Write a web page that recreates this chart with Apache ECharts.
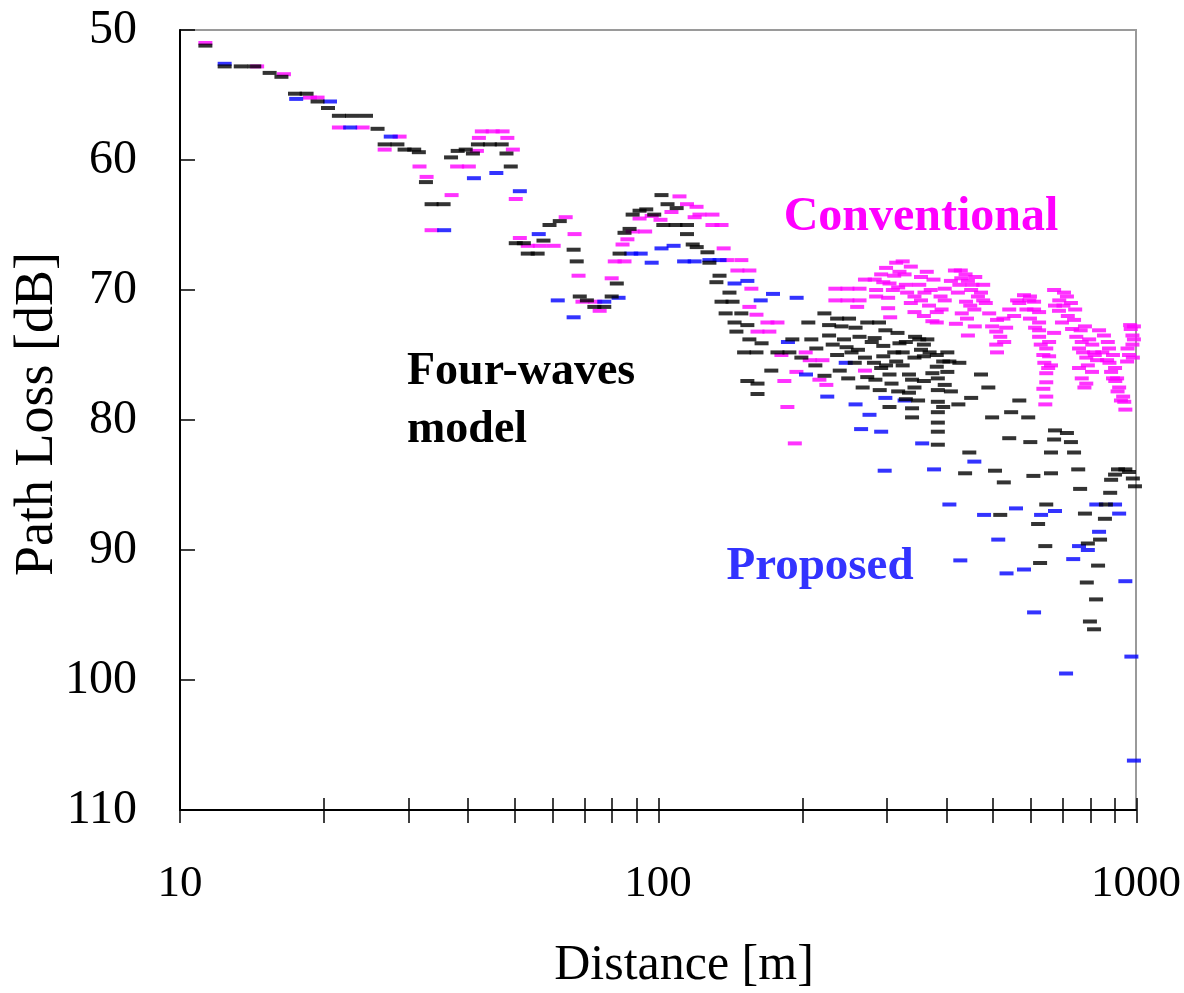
<!DOCTYPE html>
<html>
<head>
<meta charset="utf-8">
<script src="https://cdn.jsdelivr.net/npm/echarts@6/dist/echarts.min.js"></script>
<style>
  html, body { margin: 0; padding: 0; background: #fff; }
  #chart { width: 1184px; height: 993px; }
</style>
</head>
<body>
<div id="chart"></div>
<script>
// axis ticks / labels
const distTicks = [10, 20, 30, 40, 50, 60, 70, 80, 90, 100, 200, 300, 400, 500, 600, 700, 800, 900, 1000];
const distLabels = [10, 100, 1000];

// [distance m, path loss dB]
const conventional = [
  [11.3, 51.0], [14.5, 52.8], [16.5, 53.4], [18.7, 55.2], [19.4, 55.2], [21.5, 57.5], [24.1, 57.5], [26.8, 59.2], [28.8, 58.2],
  [31.7, 60.5], [32.8, 61.3], [33.6, 65.4], [37.0, 62.7], [38.0, 60.5], [40.2, 60.5], [41.8, 59.3], [42.2, 58.3], [42.8, 57.8],
  [45.1, 57.8], [47.3, 57.8], [48.4, 58.3], [49.7, 59.2], [50.4, 63.0], [51.4, 66.0], [53.4, 66.6], [56.6, 66.6], [60.5, 66.6],
  [64.1, 64.4], [66.9, 65.7], [68.2, 68.9], [69.5, 70.9], [73.9, 70.9], [75.5, 71.6], [80.0, 69.1], [81.2, 67.8], [85.1, 67.8],
  [84.3, 66.5], [86.3, 66.1], [88.5, 65.5], [94.0, 65.5], [91.5, 64.5], [97.0, 64.3], [101.2, 64.6], [106.7, 64.0], [110.9, 62.8],
  [115.0, 63.4], [120.4, 63.6], [119.3, 64.4], [122.1, 64.2], [130.0, 64.2], [130.0, 65.0], [135.8, 65.0], [137.2, 66.8],
  [139.4, 67.7], [149.4, 67.7], [146.6, 68.5], [155.3, 68.5], [156.8, 69.9], [155.3, 71.3], [160.7, 71.9], [169.4, 72.5],
  [177.8, 72.5], [161.5, 73.2], [171.0, 73.2], [181.2, 75.0], [194.8, 76.3], [183.8, 77.0], [186.5, 79.0], [193.3, 81.8],
  [203.7, 74.8], [207.7, 75.4], [220.8, 75.4], [217.6, 76.9], [225.0, 77.3],
  [235, 69.9], [249, 69.9], [264, 69.9], [235, 70.8], [249, 70.8], [264, 70.8], [261, 71.3], [271, 76.2], [271, 69.2],
  [286, 70.0], [284, 69.2], [293, 68.8], [315, 67.9], [325, 67.8], [320, 68.6], [305, 69.5], [286, 70.5], [303, 70.6],
  [303, 71.4], [306, 72.1], [328, 68.8], [330, 69.6], [352, 69.6], [344, 70.5], [344, 71.7], [365, 68.6], [377, 69.2],
  [361, 70.2], [369, 71.2], [383, 71.7], [383, 72.5], [398, 69.9], [398, 70.8], [418, 68.5], [431, 69.1], [424, 70.2],
  [427, 69.6], [441, 70.9], [443, 72.2], [445, 73.5], [452, 70.0], [459, 71.5], [461, 69.0], [474, 70.2], [479, 69.6],
  [479, 70.8], [493, 71.8], [512, 72.3], [510, 73.2], [510, 74.2], [512, 74.8], [528, 72.2], [543, 71.5], [556, 72.0],
  [564, 70.8], [583, 70.4], [598, 70.8], [612, 70.9], [612, 71.5], [627, 71.7], [627, 72.5], [627, 73.1], [627, 73.6],
  [649, 74.5], [658, 74.0], [658, 75.1], [643, 75.6], [664, 75.8], [649, 76.4], [649, 77.1], [649, 78.2], [646, 78.8],
  [674, 70.0], [691, 70.8], [707, 70.2], [717, 70.5], [731, 71.0], [677, 71.2], [746, 71.5], [674, 73.3], [742, 72.3],
  [766, 73.1], [782, 72.8], [760, 74.5], [787, 75.2], [793, 75.8], [787, 77.2], [798, 73.8], [817, 74.8], [829, 75.4],
  [809, 76.3], [837, 73.1], [857, 73.5], [873, 74.0], [878, 74.5], [870, 75.4], [895, 75.0], [887, 76.3], [904, 76.0],
  [913, 76.8], [922, 77.5], [940, 78.2], [950, 79.2], [958, 75.5], [972, 72.7], [983, 73.5], [983, 74.2], [967, 75.0], [990, 73.8],
  [300, 68.3], [312, 68.9], [296, 69.4], [318, 69.8], [332, 70.2], [310, 70.0], [338, 71.0], [355, 70.8], [372, 70.0],
  [390, 70.5], [392, 71.5], [360, 72.0], [375, 72.4], [410, 69.3], [440, 68.8], [455, 69.6], [467, 70.5], [450, 71.2],
  [432, 71.8], [420, 72.6], [460, 72.8], [485, 71.0], [500, 72.8], [520, 73.6], [530, 74.0], [535, 72.9], [570, 71.0],
  [590, 71.5], [600, 72.2], [615, 72.9], [632, 74.2], [640, 75.0], [655, 76.0], [640, 77.6], [690, 71.6], [700, 72.5],
  [720, 72.0], [735, 73.0], [750, 73.6], [770, 74.0], [775, 74.8], [760, 76.0], [770, 76.8], [780, 77.5], [810, 74.2],
  [820, 75.0], [850, 74.8], [880, 75.6], [895, 76.8], [905, 77.0], [915, 77.8], [930, 78.5], [945, 78.6], [960, 74.5],
  [975, 73.0], [990, 72.8], [985, 75.2], [338, 68.2], [355, 69.0], [430, 68.5], [445, 69.3], [600, 70.5], [705, 71.2]
];

const fourWaves = [
  [11.3, 51.2], [12.4, 52.8], [13.4, 52.8], [14.3, 52.8], [15.4, 53.3], [16.3, 53.6], [17.4, 54.9], [18.4, 54.9], [19.4, 55.5],
  [20.4, 56.0], [21.5, 56.6], [22.9, 56.6], [24.5, 56.6], [25.9, 57.6], [26.8, 58.8], [28.5, 58.8], [29.5, 59.2], [30.9, 59.2],
  [31.6, 59.4], [32.7, 61.7], [33.6, 63.4], [35.6, 63.4], [36.9, 59.8], [38.1, 59.3], [39.6, 59.2], [41.0, 59.5], [42.0, 58.8],
  [44.5, 58.8], [47.1, 58.8], [48.2, 59.5], [49.2, 60.5], [50.4, 66.4], [52.4, 66.4], [53.4, 67.2], [56.0, 67.2], [57.6, 66.2],
  [59.3, 65.0], [62.3, 64.7], [66.6, 66.9], [67.6, 67.8], [68.6, 70.5], [71.0, 70.8], [73.6, 71.3], [77.2, 71.3], [80.0, 70.5],
  [82.0, 69.5], [83.1, 67.2], [85.1, 65.6], [87.2, 65.3], [88.5, 64.2], [91.5, 63.9], [94.5, 63.8], [98.2, 64.2], [101.7, 62.7],
  [104.7, 63.4], [109.4, 63.7], [102.6, 65.0], [108.8, 65.0], [115.0, 65.0], [115.0, 65.7], [118.2, 66.5], [120.5, 66.7],
  [126.9, 67.1], [128.1, 67.9], [134.5, 68.9], [132.5, 69.4], [141.1, 70.2], [135.8, 70.9], [143.2, 70.9], [138.5, 71.8],
  [149.4, 71.8], [144.6, 72.5], [153.8, 72.7], [145.9, 73.2], [155.3, 73.8], [164.7, 74.1], [151.4, 74.8], [160.7, 74.8],
  [172.6, 76.2], [153.8, 77.0], [161.5, 77.2], [161.5, 78.0], [177.8, 74.8], [188.3, 74.8], [191.0, 73.8], [199.5, 75.2],
  [206.3, 72.5], [209.3, 73.8], [214.4, 74.5], [213.4, 75.8], [222.9, 71.8], [237, 72.2], [251, 72.2], [242, 72.8], [259, 72.9],
  [274, 72.5], [290, 72.5], [228, 73.5], [228, 72.7], [245, 73.8], [264, 73.6], [284, 73.7], [299, 73.1], [317, 73.3],
  [237, 75.0], [254, 74.8], [271, 75.2], [296, 74.3], [320, 74.1], [352, 73.8], [366, 73.8], [355, 74.6], [344, 75.2],
  [360, 74.2], [360, 75.1], [296, 75.1], [325, 74.8], [325, 75.8], [274, 76.7], [293, 76.0], [315, 75.5], [305, 76.5],
  [335, 76.5], [291, 77.7], [305, 79.0], [308, 77.2], [340, 76.9], [344, 77.5], [335, 77.9], [340, 79.1], [340, 79.8],
  [383, 75.0], [383, 75.9], [385, 76.8], [385, 77.7], [385, 78.6], [385, 79.4], [385, 80.2], [385, 80.9], [385, 81.9],
  [403, 74.8], [407, 75.5], [403, 76.3], [398, 77.3], [427, 75.6], [474, 76.5], [491, 77.5], [452, 78.3], [425, 78.8],
  [500, 79.8], [570, 78.5], [548, 79.4], [595, 79.8], [543, 81.4], [601, 81.7], [677, 80.8], [717, 81.0], [674, 81.5],
  [731, 81.7], [664, 82.5], [742, 82.5], [448, 82.5], [439, 84.1], [507, 83.9], [529, 84.8], [610, 84.3], [664, 84.1],
  [757, 83.8], [764, 85.3], [887, 84.6], [904, 84.2], [917, 83.8], [950, 83.8], [967, 84.0], [985, 84.5], [995, 85.1],
  [883, 85.6], [865, 86.5], [649, 86.5], [782, 87.2], [520, 87.3], [624, 88.0], [861, 87.6], [793, 89.5], [841, 89.2],
  [646, 89.7], [630, 91.0], [833, 91.2], [789, 92.5], [825, 93.8], [801, 95.5], [817, 96.1],
  [232, 74.2], [248, 74.4], [262, 74.6], [280, 74.0], [258, 75.6], [283, 75.6], [300, 75.8], [312, 74.8], [330, 74.0],
  [345, 73.6], [370, 74.8], [375, 76.4], [360, 77.0], [350, 78.5], [330, 78.4], [318, 77.8], [395, 75.5], [410, 77.8],
  [395, 79.0], [268, 77.5], [285, 76.9], [240, 76.2], [250, 76.8], [223, 76.6]
];

const proposed = [
  [12.4, 52.6], [17.5, 55.3], [20.6, 55.5], [22.7, 57.5], [27.6, 58.2], [35.7, 65.4], [41.2, 61.4], [45.9, 61.0], [51.4, 62.4],
  [56.3, 65.7], [61.7, 70.8], [66.6, 72.1], [77.2, 70.9], [82.7, 70.6], [87.9, 67.2], [92.0, 67.2], [97.0, 67.9], [101.7, 66.8],
  [107.8, 66.6], [113.4, 67.8], [119.3, 67.8], [128.1, 67.7], [134.5, 67.7], [144.6, 69.5], [153.8, 69.3], [164, 70.8],
  [174, 70.3], [195, 70.6], [187, 74.0], [204, 76.5], [226, 78.2], [247, 75.6], [259, 78.8], [277, 79.6], [299, 78.3],
  [266, 80.7], [293, 80.9], [328, 78.5], [357, 81.8], [298, 83.9], [378, 83.8], [459, 83.2], [407, 86.5], [481, 87.3],
  [561, 86.8], [633, 87.3], [677, 87.0], [515, 89.2], [429, 90.8], [536, 91.8], [583, 91.5], [612, 94.8], [714, 99.5],
  [826, 86.5], [904, 86.5], [922, 87.2], [837, 88.6], [760, 89.7], [793, 90.0], [739, 90.7], [950, 92.4], [978, 98.2], [990, 106.2]
];

const serif = '"Liberation Serif", "Times New Roman", serif';
const dash = [14, 4];

const chart = echarts.init(document.getElementById('chart'), null, { renderer: 'canvas' });

// grid 0 carries the line + labels, grid 1 only the ticks (shifted up so they cross the line)
const xMain = {
  type: 'log', logBase: 10, min: 10, max: 1000, gridIndex: 0,
  axisLine: { show: true, lineStyle: { color: '#000', width: 2 } },
  axisTick: { show: false },
  axisLabel: {
    customValues: distLabels, margin: 52, formatter: v => String(v),
    fontFamily: serif, fontSize: 45, color: '#000'
  },
  splitLine: { show: false },
  minorTick: { show: false }
};
const xTicks = {
  type: 'log', logBase: 10, min: 10, max: 1000, gridIndex: 1, offset: -12,
  axisLine: { show: false },
  axisTick: { show: true, inside: false, length: 25, customValues: distTicks, lineStyle: { color: '#000', width: 1.5 } },
  axisLabel: { show: false },
  splitLine: { show: false },
  minorTick: { show: false }
};

function lossAxis(grid, show) {
  return {
    type: 'value', inverse: true, min: 50, max: 110, interval: 10, gridIndex: grid, show: show,
    axisLine: { show: true, lineStyle: { color: '#000', width: 2 } },
    axisTick: { show: true, inside: true, length: 15, lineStyle: { color: '#000', width: 1.5 } },
    axisLabel: { margin: 43, fontFamily: serif, fontSize: 48, color: '#000' },
    splitLine: { show: false }
  };
}

function dashes(name, data, color, z) {
  return {
    name: name, type: 'scatter', data: data, xAxisIndex: 0, yAxisIndex: 0,
    symbol: 'rect', symbolSize: dash, itemStyle: { color: color }, z: z, silent: true
  };
}

chart.setOption({
  animation: false,
  backgroundColor: '#fff',
  grid: [
    { left: 180, right: 47, top: 30, bottom: 183, show: true, borderColor: '#9a9a9a', borderWidth: 2 },
    { left: 180, right: 47, top: 30, bottom: 183, show: false }
  ],
  xAxis: [xMain, xTicks],
  yAxis: [lossAxis(0, true), lossAxis(1, false)],
  series: [
    dashes('Conventional', conventional, '#ff00ff', 2),
    dashes('Proposed', proposed, '#0000ff', 3),
    dashes('Four-waves model', fourWaves, '#000000', 4)
  ],
  graphic: [
    { type: 'text', x: 38, y: 414, rotation: Math.PI / 2,
      style: { text: 'Path Loss [dB]', font: '54px ' + serif, fill: '#000', align: 'center', verticalAlign: 'middle' } },
    { type: 'text', x: 684, y: 966,
      style: { text: 'Distance [m]', font: '50px ' + serif, fill: '#000', align: 'center', verticalAlign: 'middle' } },
    { type: 'text', x: 921, y: 218,
      style: { text: 'Conventional', font: 'bold 48px ' + serif, fill: '#ff00ff', align: 'center', verticalAlign: 'middle' } },
    { type: 'text', x: 407, y: 372,
      style: { text: 'Four-waves', font: 'bold 46px ' + serif, fill: '#000', align: 'left', verticalAlign: 'middle' } },
    { type: 'text', x: 407, y: 430,
      style: { text: 'model', font: 'bold 46px ' + serif, fill: '#000', align: 'left', verticalAlign: 'middle' } },
    { type: 'text', x: 820, y: 567,
      style: { text: 'Proposed', font: 'bold 47px ' + serif, fill: '#3333ff', align: 'center', verticalAlign: 'middle' } }
  ]
});
</script>
</body>
</html>
